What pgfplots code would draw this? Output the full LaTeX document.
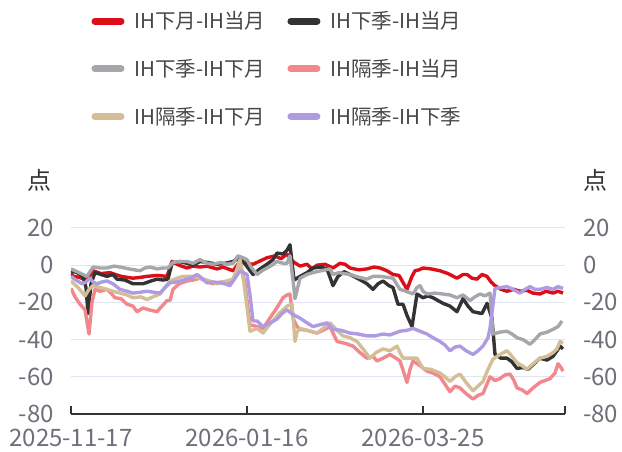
\documentclass[border=0pt]{standalone}
\usepackage{pgfplots}
\pgfplotsset{compat=1.18}
\usepackage{fontspec}
\setmainfont{Noto Sans CJK SC}

\definecolor{cRed}{RGB}{220,15,25}
\definecolor{cBlack}{RGB}{51,51,51}
\definecolor{cGray}{RGB}{165,167,170}
\definecolor{cPink}{RGB}{242,135,140}
\definecolor{cTan}{RGB}{212,190,152}
\definecolor{cPurple}{RGB}{175,155,225}
\definecolor{tickgray}{RGB}{110,112,121}
\definecolor{gridc}{RGB}{224,230,241}

\pgfplotsset{
  common/.style={
    width=494pt, height=186pt, scale only axis,
    xmin=0, xmax=494, ymin=-80, ymax=20,
    ytick={-80,-60,-40,-20,0,20},
    yticklabels={-80,-60,-40,-20,0,20},
    tick label style={font=\fontsize{24}{28}\selectfont, text=tickgray},
  },
  lin/.style={line width=3.4pt, line join=round, mark=none},
}

\begin{document}
\begin{tikzpicture}
\path[use as bounding box] (-71pt,-38pt) rectangle (551pt,414pt);
\begin{axis}[common,
  at={(0pt,0pt)}, anchor=south west,
  axis x line*=bottom, axis y line*=left,
  y axis line style={draw=none},
  x axis line style={draw=cBlack, line width=1.5pt},
  xtick={0,176,352,494},
  xticklabels={2025-11-17,2026-01-16,2026-03-25,},
  xtick align=inside,
  x tick style={draw=cBlack, line width=1.5pt},
  major tick length=8pt,
  y tick style={draw=none},
  ymajorgrids, grid style={gridc, line width=1pt},
  xticklabel style={yshift=-12pt},
  yticklabel style={inner sep=0pt, xshift=-17pt},
  legend columns=2,
  legend cell align=left,
  legend style={draw=none, fill=none, at={(0.035,2.185)}, anchor=north west,
    font=\fontsize{20.5}{24}\selectfont, text=black!72,
    /tikz/every odd column/.append style={column sep=8pt},
    /tikz/every even column/.append style={column sep=20pt},
    row sep=25pt},
  legend image code/.code={\draw[#1, line width=7pt, line cap=round] (3.5pt,0pt) -- (29.5pt,0pt);},
]
\addplot[lin, cRed] coordinates {
(0,-4) (2,-6) (8,-6.5) (16,-8) (22,-3) (30,-4.5) (39,-4) (50,-6) (62,-7) (70,-6.5) (76,-6) (86,-5.5) (96,-6)
(101,2) (108,0) (116,-1.5) (122,-0.5) (129,-1) (136,-0.5) (146,-2) (152,-1) (162,-3) (169,2) (175,1)
(182,0.5) (190,2.5) (196,4) (204,5) (210,3.5) (216,6) (222,2) (229,-0.5) (236,0.5) (241,-2) (246,0)
(254,0.5) (262,-1.5) (269,1) (274,0.5) (279,-1.5) (288,-2.5) (296,-2) (303,-1) (309,-1.5) (316,-3)
(322,-5) (328,-5.5) (336,-13) (341,-6) (344,-3) (348,-2.5) (352,-1.5) (360,-2) (369,-3) (377,-4.5)
(386,-7) (392,-5) (396,-5) (401,-7) (406,-7.5) (411,-5) (416,-6) (420,-9) (424,-11) (430,-13) (436,-14)
(443,-13) (449,-14) (456,-13.5) (462,-15) (469,-15.5) (475,-14) (482,-15) (487,-14) (492,-15)
};
\addlegendentry{IH下月-IH当月}
\addplot[lin, cBlack] coordinates {
(0,-3) (6,-4) (12,-6) (15,-12) (17,-26) (20,-10) (24,-4) (30,-5) (36,-6) (42,-5) (46,-7.5) (54,-8)
(62,-10) (72,-10) (80,-8.5) (86,-7.5) (92,-8) (97,-7.5) (101,1) (108,2) (116,1) (122,0) (129,2)
(136,1.5) (146,0.5) (154,1) (162,2) (169,4) (175,0) (182,-5) (189,-2) (196,0.5) (202,3) (206,6.5)
(212,6) (216,8) (219,11) (223,-8) (229,-6) (236,-4) (242,-1.5) (250,-1) (256,-2) (262,-11) (267,-6)
(273,-3.5) (279,-5) (288,-7.5) (296,-10) (302,-13) (307,-10) (312,-8.5) (318,-11) (322,-12) (327,-21)
(332,-21) (336,-27) (341,-33) (346,-15.5) (352,-17.5) (357,-16.5) (362,-17.5) (367,-19) (372,-20.5)
(379,-22) (386,-25) (392,-18) (397,-22) (402,-25) (411,-26) (416,-20.5) (421,-28.5) (424,-48)
(430,-50) (436,-50) (441,-52) (446,-55.5) (452,-55) (457,-56) (463,-53) (469,-50) (476,-51)
(482,-49) (486,-46) (489,-43.5) (492,-45)
};
\addlegendentry{IH下季-IH当月}
\addplot[lin, cGray] coordinates {
(0,-2) (8,-4) (16,-6) (22,-1) (29,-1.5) (36,-1.5) (43,-0.5) (49,-1) (58,-2) (69,-3) (74,-1.5) (79,-1)
(86,-2) (92,-1.5) (97,-1.5) (102,1.5) (110,2) (116,2) (122,1) (129,3) (136,1) (142,0.5) (150,1.5)
(156,0.5) (162,1) (167,5) (172,4) (176,3) (180,-1) (186,-5) (191,-3) (196,-1.5) (201,0) (206,2)
(212,1) (216,1) (219,5) (222,-8) (224,-18) (229,-7) (236,-5) (242,-4) (250,-3) (259,-2) (262,-5)
(268,-4) (273,-4.5) (279,-5) (288,-6.5) (296,-7.5) (302,-6) (309,-6) (316,-6.5) (322,-7) (329,-13)
(335,-14) (342,-15.5) (346,-12) (349,-11) (352,-14) (356,-15.5) (364,-15) (372,-15.5) (379,-16)
(386,-17.5) (392,-16) (399,-19) (404,-17) (409,-15.5) (414,-16.5) (419,-15) (422,-37) (429,-36)
(436,-35.5) (441,-37) (446,-39) (452,-40) (459,-42.5) (464,-40) (469,-37) (476,-36) (482,-34.5)
(487,-33) (491,-30)
};
\addlegendentry{IH下季-IH下月}
\addplot[lin, cPink] coordinates {
(0,-12.5) (4,-17) (9,-21) (14,-24) (18,-37) (21,-20) (24,-13) (29,-14) (36,-13) (40,-15) (44,-17.5)
(50,-18) (56,-21) (62,-22) (66,-25) (72,-23) (78,-24) (86,-25) (91,-22) (96,-19) (99,-19) (102,-13)
(108,-10) (116,-8.5) (122,-8) (129,-7) (136,-9) (142,-10) (150,-9) (159,-9.5) (164,-6) (169,2)
(174,-10) (179,-32) (186,-33) (192,-34) (197,-30) (202,-26) (207,-22) (212,-17.5) (216,-16)
(219,-15.5) (222,-28.5) (226,-33) (229,-34.5) (236,-35) (246,-36.5) (252,-35) (259,-33) (266,-41)
(274,-42) (282,-43.5) (289,-47) (296,-50) (302,-49) (306,-51.5) (312,-50) (319,-48) (325,-50)
(329,-51.5) (333,-58) (336,-63) (339,-56) (342,-51.5) (349,-54) (356,-57) (362,-58) (369,-60)
(374,-64) (379,-68) (384,-65) (389,-66) (395,-69) (402,-72) (407,-70) (412,-69) (419,-60)
(424,-62) (429,-61) (434,-59) (439,-58.5) (443,-62) (446,-66) (451,-67) (456,-69) (462,-66)
(469,-63) (474,-62) (479,-61) (484,-58) (487,-53) (490,-55) (492,-57)
};
\addlegendentry{IH隔季-IH当月}
\addplot[lin, cTan] coordinates {
(0,-8.5) (7,-12) (14,-16.5) (18,-13) (22,-11) (29,-12) (36,-13) (42,-14) (49,-15) (56,-16)
(62,-17.5) (70,-17) (76,-18.5) (82,-17) (89,-15.5) (94,-12) (99,-8.5) (106,-7) (112,-6) (120,-6)
(129,-7) (136,-8) (146,-10) (152,-9) (162,-7.5) (166,-2) (169,3) (173,-10) (179,-35.5) (186,-34)
(192,-36.5) (197,-33) (202,-30) (208,-26) (216,-22) (221,-21) (224,-41) (226,-36) (229,-34)
(236,-35) (246,-36.5) (252,-34) (259,-31) (266,-35) (272,-38) (279,-39) (286,-41) (292,-45)
(299,-50) (305,-47) (312,-45) (319,-46) (326,-43.5) (329,-47) (332,-50) (339,-50) (346,-50)
(352,-55.5) (360,-56) (369,-58) (374,-60) (379,-62.5) (384,-60) (389,-58.5) (395,-63) (402,-67.5)
(407,-65) (412,-62.5) (417,-56) (422,-50.5) (429,-48) (436,-46) (441,-49) (446,-52.5) (451,-54)
(456,-56) (462,-53) (469,-50) (476,-49) (482,-47) (486,-45) (489,-41) (492,-42)
};
\addlegendentry{IH隔季-IH下月}
\addplot[lin, cPurple] coordinates {
(0,-6) (5,-8) (11,-10) (15,-9) (19,-7) (22,-9) (26,-10) (31,-9) (36,-8.5) (42,-10) (49,-13)
(56,-14) (62,-15) (70,-14.5) (76,-14) (82,-14.5) (89,-15) (94,-12) (99,-9.5) (106,-9) (116,-7.5)
(121,-6.5) (126,-5) (131,-7) (136,-9.5) (142,-9) (149,-9.5) (154,-10) (159,-11) (164,-7) (169,-3)
(176,-5) (179,-16) (182,-30) (186,-30) (192,-33) (199,-31) (206,-29) (211,-26) (216,-24) (222,-26.5)
(229,-28.5) (236,-31) (242,-33) (249,-32) (256,-31) (262,-34.5) (270,-35) (279,-36.5) (287,-37)
(296,-38) (304,-38) (312,-37) (319,-37.5) (329,-35.5) (336,-35) (342,-34) (349,-35.5) (356,-37)
(362,-39) (369,-41) (374,-43) (379,-46) (384,-44) (389,-43.5) (395,-46) (402,-48) (407,-46)
(412,-43.5) (417,-39) (419,-34) (424,-12.5) (430,-12) (436,-11.5) (442,-13) (449,-15) (454,-13)
(459,-11.5) (464,-13) (469,-13) (476,-12) (482,-13) (487,-11.5) (492,-12.5)
};
\addlegendentry{IH隔季-IH下季}
\end{axis}
\begin{axis}[common,
  at={(0pt,0pt)}, anchor=south west,
  hide x axis,
  axis y line*=right,
  y axis line style={draw=none},
  y tick style={draw=none},
  yticklabel style={inner sep=0pt, anchor=west, xshift=18pt},
]
\end{axis}
\node[font=\fontsize{24}{28}\selectfont, text=cBlack] at (-31pt,234pt) {点};
\node[font=\fontsize{24}{28}\selectfont, text=cBlack] at (524pt,234pt) {点};
\end{tikzpicture}
\end{document}
